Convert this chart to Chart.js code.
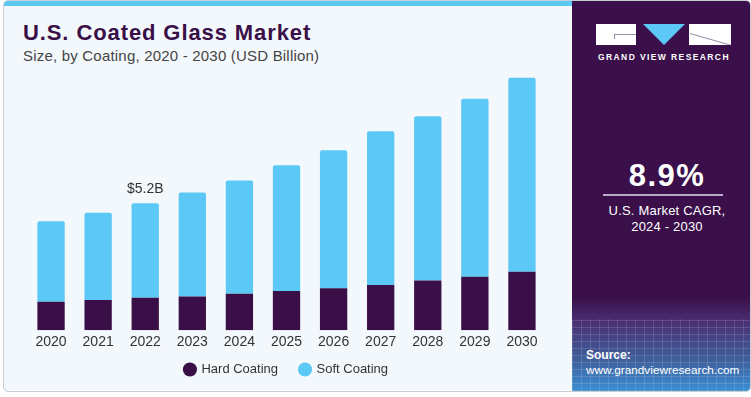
<!DOCTYPE html>
<html lang="en">
<head>
  <meta charset="UTF-8">
  <title>U.S. Coated Glass Market</title>
  <script src="https://cdn.jsdelivr.net/npm/chart.js"></script>
  <style>
    body {
      margin: 0;
      background: #ffffff;
      font-family: "Liberation Sans", Arial, sans-serif;
      width: 751px;
      height: 397px;
      position: relative;
      overflow: hidden;
    }
    .card {
      position: absolute;
      left: 3px;
      top: 0;
      width: 746px;
      height: 390px;
      border: 1px solid #c9ccd0;
      border-radius: 5px;
      overflow: hidden;
      background: #f3f8fc;
    }
    .topbar {
      position: absolute;
      left: 0;
      top: 0;
      width: 568px;
      height: 5px;
      background: #5bc8f5;
    }
    .title {
      position: absolute;
      left: 19px;
      top: 19px;
      font-size: 22px;
      font-weight: bold;
      color: #3a0f47;
      letter-spacing: 0.9px;
    }
    .subtitle {
      position: absolute;
      left: 19px;
      top: 46px;
      font-size: 15px;
      color: #444;
      letter-spacing: 0.2px;
    }
    .side {
      position: absolute;
      left: 568px;
      top: 0;
      width: 180px;
      height: 390px;
      background: linear-gradient(180deg, #3a0f4a 0%, #3a0f4a 76%, #4a2f72 82%, #3f5f9c 92%, #3b8fd2 100%);
    }
    .grid {
      position: absolute;
      left: 0;
      top: 318px;
      width: 180px;
      height: 72px;
      background:
        repeating-linear-gradient(90deg, rgba(255,255,255,0.13) 0 1px, transparent 1px 9px),
        repeating-linear-gradient(0deg, rgba(255,255,255,0.13) 0 1px, transparent 1px 7px);
    }
    .logo { position: absolute; left: 24px; top: 23px; width: 136px; height: 21px; }
    .logo .b1 { position: absolute; left: 0; top: 0; width: 40px; height: 21px; background: #fff; overflow: hidden; }
    .logo .b1::after {
      content: ''; position: absolute; left: 18px; top: 10px; width: 22px; height: 4px;
      border-top: 1px solid #9a8fa6; border-left: 1px solid #9a8fa6;
    }
    .logo .b3 { position: absolute; left: 93px; top: 0; width: 42px; height: 21px; background: #fff; overflow: hidden; }
    .logo .b3::after {
      content: ''; position: absolute; left: 1px; top: 9px; width: 44px; height: 1px;
      background: #9a8fa6; transform: rotate(16deg); transform-origin: left center;
    }
    .logo .tri {
      position: absolute; left: 47px; top: 0; width: 0; height: 0;
      border-left: 21px solid transparent; border-right: 21px solid transparent;
      border-top: 21px solid #5bc8f5;
    }
    .logo-text {
      position: absolute; left: 0; top: 51px; width: 184px; text-align: center;
      color: #fff; font-size: 8.5px; font-weight: bold; letter-spacing: 1.4px;
    }
    .cagr {
      position: absolute; left: 0; top: 157px; width: 190px; text-align: center;
      color: #fff; font-size: 31px; font-weight: bold; letter-spacing: 1.5px;
    }
    .rule { position: absolute; left: 31px; top: 193px; width: 120px; height: 2px; background: #b9a9c7; }
    .cagr-text {
      position: absolute; left: 0; top: 202px; width: 190px; text-align: center;
      color: #fff; font-size: 13px; line-height: 16px; letter-spacing: 0.2px;
    }
    .source { position: absolute; left: 14px; top: 347px; color: #fff; font-size: 11.8px; line-height: 15px; }
    .source b { font-size: 12px; }
    #chartBox { position: absolute; left: 0; top: 0; width: 573px; height: 400px; }
  </style>
</head>
<body>

<div class="card">
  <div class="topbar"></div>
  <div class="title">U.S. Coated Glass Market</div>
  <div class="subtitle">Size, by Coating, 2020 - 2030 (USD Billion)</div>
  <div class="side">
    <div class="grid"></div>
    <div class="logo"><div class="b1"></div><div class="tri"></div><div class="b3"></div></div>
    <div class="logo-text">GRAND VIEW RESEARCH</div>
    <div class="cagr">8.9%</div>
    <div class="rule"></div>
    <div class="cagr-text">U.S. Market CAGR,<br>2024 - 2030</div>
    <div class="source"><b>Source:</b><br>www.grandviewresearch.com</div>
  </div>
</div>

<div id="chartBox"><canvas id="marketChart"></canvas></div>

<script>
  // values (USD billion)
  const years = ['2020', '2021', '2022', '2023', '2024', '2025', '2026', '2027', '2028', '2029', '2030'];
  const hardCoating = [1.16, 1.24, 1.33, 1.38, 1.49, 1.60, 1.72, 1.85, 2.03, 2.19, 2.39];
  const softCoating = [3.30, 3.57, 3.87, 4.26, 4.64, 5.15, 5.64, 6.29, 6.73, 7.28, 7.94];
  const labelYear = '2022';
  const labelText = '$5.2B';

  const hardColor = '#3a0f47';
  const softColor = '#5bc8f5';

  // value label above one bar
  const totalLabel = {
    id: 'totalLabel',
    afterDatasetsDraw(chart) {
      const i = years.indexOf(labelYear);
      const total = hardCoating[i] + softCoating[i];
      const x = chart.scales.x.getPixelForValue(i);
      const y = chart.scales.y.getPixelForValue(total);
      const c = chart.ctx;
      c.save();
      c.font = '14px "Liberation Sans", Arial, sans-serif';
      c.fillStyle = '#333';
      c.textAlign = 'center';
      c.textBaseline = 'bottom';
      c.fillText(labelText, x, y - 7);
      c.restore();
    }
  };

  // pull the legend a bit closer to the year labels
  const legendUp = {
    id: 'legendUp',
    afterLayout(chart) {
      chart.legend.top -= 14;
      chart.legend.bottom -= 14;
    }
  };

  const ctx = document.getElementById('marketChart').getContext('2d');
  const marketChart = new Chart(ctx, {
    type: 'bar',
    data: {
      labels: years,
      datasets: [{
        label: 'Hard Coating',
        data: hardCoating,
        backgroundColor: hardColor,
        borderSkipped: false,
        categoryPercentage: 1,
        barPercentage: 0.58
      }, {
        label: 'Soft Coating',
        data: softCoating,
        backgroundColor: softColor,
        borderRadius: { topLeft: 2, topRight: 2 },
        borderSkipped: false,
        categoryPercentage: 1,
        barPercentage: 0.58
      }]
    },
    options: {
      responsive: true,
      maintainAspectRatio: false,
      animation: false,
      layout: { padding: { left: 27.5, right: 27.5, top: 37, bottom: 0 } },
      plugins: {
        tooltip: { enabled: false },
        legend: {
          position: 'bottom',
          labels: {
            usePointStyle: true,
            pointStyle: 'circle',
            boxWidth: 10,
            boxHeight: 10,
            padding: 22,
            color: '#333',
            font: { family: '"Liberation Sans", Arial, sans-serif', size: 13 }
          }
        }
      },
      scales: {
        x: {
          stacked: true,
          grid: { display: false, drawTicks: false },
          border: { display: false },
          ticks: {
            padding: 4,
            color: '#333',
            font: { family: '"Liberation Sans", Arial, sans-serif', size: 14 }
          }
        },
        y: {
          stacked: true,
          display: false,
          min: 0,
          max: 12
        }
      }
    },
    plugins: [totalLabel, legendUp]
  });
</script>

</body>
</html>
